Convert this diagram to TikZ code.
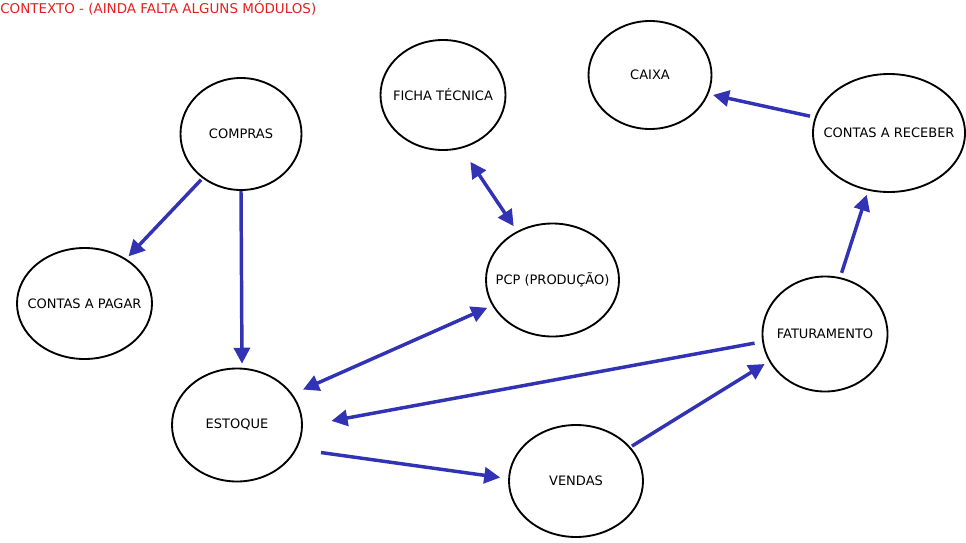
\documentclass[tikz,border=0pt]{standalone}
\usepackage{fontspec}
\setmainfont{DejaVu Sans}
\usetikzlibrary{shapes.geometric,arrows.meta}
\definecolor{arrowblue}{RGB}{50,50,180}
\definecolor{titlered}{RGB}{230,30,30}
\newcommand{\zw}[1]{\makebox[0pt]{#1}}
\begin{document}
\begin{tikzpicture}[x=0.75pt,y=-0.75pt,
  modbox/.style={ellipse,draw=black,line width=1.4pt,inner sep=0pt,font=\fontsize{9.75}{11}\selectfont},
  conn/.style={draw=arrowblue,line width=2.6pt,-{Triangle[length=12pt,width=12pt]}},
  bconn/.style={draw=arrowblue,line width=2.6pt,{Triangle[length=12pt,width=12pt]}-{Triangle[length=12pt,width=12pt]}}]
\useasboundingbox (0,0) rectangle (966,542);
\node[anchor=west,inner sep=0pt,text=titlered,font=\fontsize{10.1}{12}\selectfont] (title) at (0,8) {CONTEXTO - (AINDA FALTA ALGUNS MÓDULOS)};
\node[modbox,minimum width=121*0.75pt,minimum height=112*0.75pt] (compras) at (241,134) {\zw{COMPRAS}};
\node[modbox,minimum width=125*0.75pt,minimum height=110*0.75pt] (ficha) at (443,95) {\zw{FICHA TÉCNICA}};
\node[modbox,minimum width=123*0.75pt,minimum height=108*0.75pt] (caixa) at (650,75) {\zw{CAIXA}};
\node[modbox,minimum width=152*0.75pt,minimum height=118*0.75pt] (receber) at (889,133) {\zw{CONTAS A RECEBER}};
\node[modbox,minimum width=135*0.75pt,minimum height=111*0.75pt] (pagar) at (84.5,303.5) {\zw{CONTAS A PAGAR}};
\node[modbox,minimum width=133*0.75pt,minimum height=113*0.75pt] (pcp) at (552.5,280) {\zw{PCP (PRODUÇÃO)}};
\node[modbox,minimum width=125*0.75pt,minimum height=115*0.75pt] (fat) at (825,334) {\zw{FATURAMENTO}};
\node[modbox,minimum width=130*0.75pt,minimum height=113*0.75pt] (estoque) at (237,425) {\zw{ESTOQUE}};
\node[modbox,minimum width=134*0.75pt,minimum height=112*0.75pt] (vendas) at (576,481) {\zw{VENDAS}};

\draw[conn,shorten <=1.5pt,shorten >=2.5pt] (compras.229.7) -- (pagar.47.5);
\draw[conn,shorten <=0pt,shorten >=3pt] (compras.-90) -- (estoque.85.3);
\draw[bconn,shorten <=12pt,shorten >=4.5pt] (ficha.-71) -- (pcp.126);
\draw[bconn,shorten <=4pt,shorten >=8.5pt] (pcp.203.6) -- (estoque.29.7);
\draw[conn,shorten <=3.7pt,shorten >=3.4pt] (receber.168.7) -- (caixa.-18.7);
\draw[conn,shorten <=3.5pt,shorten >=3.2pt] (fat.75.3) -- (receber.-110.4);
\draw[conn,shorten <=5.8pt,shorten >=21.8pt] (fat.187.3) -- (estoque.-1.8);
\draw[conn,shorten <=18.3pt,shorten >=6pt] (estoque.-22.5) -- (vendas.178.5);
\draw[conn,shorten <=1.3pt,shorten >=3.8pt] (vendas.32) -- (fat.206.6);
\end{tikzpicture}
\end{document}
